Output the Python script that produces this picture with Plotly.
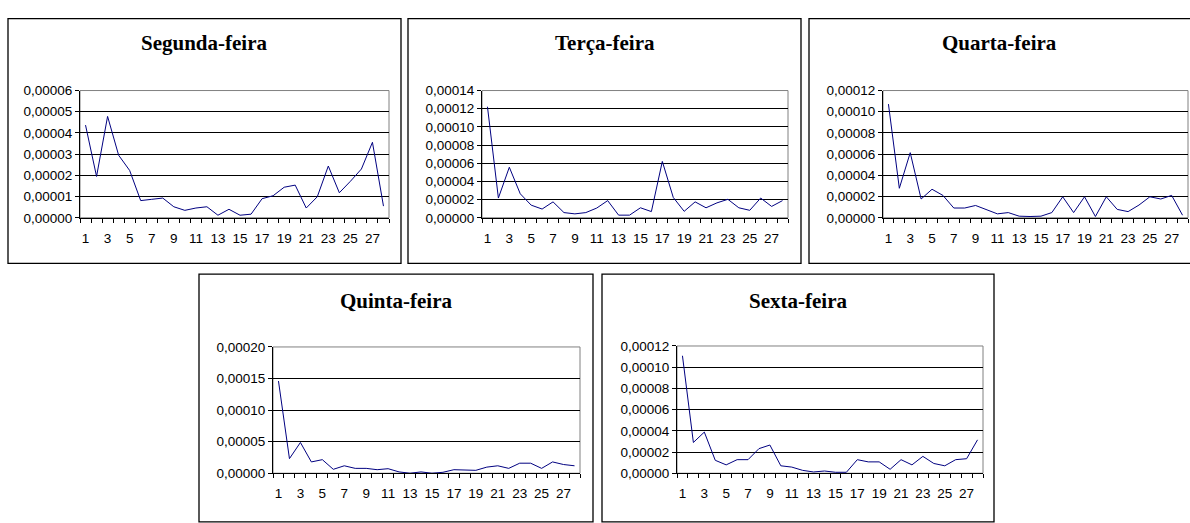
import plotly.graph_objects as go

W, H = 1190, 523

days = ["Segunda-feira", "Terça-feira", "Quarta-feira", "Quinta-feira", "Sexta-feira"]
categories = list(range(1, 29))
x_labels = [str(c) for c in categories if c % 2 == 1]

segunda = [4.37e-5, 1.95e-5, 4.78e-5, 2.95e-5, 2.23e-5, 0.81e-5, 0.87e-5, 0.93e-5, 0.52e-5, 0.35e-5,
           0.46e-5, 0.52e-5, 0.12e-5, 0.40e-5, 0.12e-5, 0.17e-5, 0.90e-5, 1.04e-5, 1.44e-5, 1.54e-5,
           0.46e-5, 0.99e-5, 2.44e-5, 1.18e-5, 1.72e-5, 2.30e-5, 3.56e-5, 0.55e-5]
terca = [12.22e-5, 2.17e-5, 5.56e-5, 2.64e-5, 1.39e-5, 0.96e-5, 1.75e-5, 0.57e-5, 0.43e-5, 0.57e-5,
         1.07e-5, 1.89e-5, 0.29e-5, 0.29e-5, 1.10e-5, 0.68e-5, 6.20e-5, 2.24e-5, 0.71e-5, 1.75e-5,
         1.10e-5, 1.64e-5, 2.03e-5, 1.10e-5, 0.82e-5, 2.17e-5, 1.25e-5, 1.89e-5]
quarta = [10.72e-5, 2.78e-5, 6.14e-5, 1.77e-5, 2.69e-5, 2.11e-5, 0.92e-5, 0.92e-5, 1.16e-5, 0.80e-5,
          0.37e-5, 0.49e-5, 0.15e-5, 0.12e-5, 0.15e-5, 0.49e-5, 1.98e-5, 0.49e-5, 1.98e-5, 0.12e-5,
          1.98e-5, 0.79e-5, 0.58e-5, 1.20e-5, 1.98e-5, 1.77e-5, 2.11e-5, 0.24e-5]
quinta = [14.6e-5, 2.31e-5, 4.87e-5, 1.79e-5, 2.15e-5, 0.62e-5, 1.18e-5, 0.77e-5, 0.77e-5, 0.56e-5,
          0.72e-5, 0.21e-5, 0.0, 0.21e-5, 0.0, 0.15e-5, 0.56e-5, 0.46e-5, 0.46e-5, 0.97e-5,
          1.18e-5, 0.77e-5, 1.59e-5, 1.59e-5, 0.77e-5, 1.79e-5, 1.38e-5, 1.18e-5]
sexta = [11.08e-5, 2.90e-5, 3.88e-5, 1.22e-5, 0.79e-5, 1.28e-5, 1.28e-5, 2.32e-5, 2.66e-5, 0.70e-5,
         0.58e-5, 0.27e-5, 0.12e-5, 0.21e-5, 0.09e-5, 0.09e-5, 1.28e-5, 1.07e-5, 1.07e-5, 0.37e-5,
         1.28e-5, 0.79e-5, 1.59e-5, 0.92e-5, 0.70e-5, 1.28e-5, 1.37e-5, 3.15e-5]

series = [segunda, terca, quarta, quinta, sexta]
y_max = [0.00006, 0.00014, 0.00012, 0.00020, 0.00012]
y_step = [0.00001, 0.00002, 0.00002, 0.00005, 0.00002]

# layout geometry in pixels: plot area (x0, x1, ytop, ybottom), frame (x0, x1, y0, y1), title y
plot_px = [(80, 389, 86, 217), (482, 788, 86, 217), (883, 1188, 86, 217),
           (273, 580, 350, 480), (677, 983, 349, 480)]
frame_px = [(8, 401, 12, 264), (408, 801, 12, 264), (809, 1195, 12, 264),
            (199, 593, 275, 530), (602, 994, 275, 530)]
title_y = [37, 37, 37, 303, 303]

def px(x):
    return x / W

def py(y):
    return 1 - y / H

fig = go.Figure()
layout = dict(width=W, height=H, margin=dict(l=0, r=0, t=0, b=0),
              paper_bgcolor="white", plot_bgcolor="white", showlegend=False,
              separators=",.", shapes=[], annotations=[])

label_vals = [c for c in categories if c % 2 == 1]
bounds = [c - 0.5 for c in categories] + [28.5]

for i in range(5):
    n = i + 1
    sfx = "" if n == 1 else str(n)
    x0, x1, yt, yb = plot_px[i]
    fig.add_trace(go.Scatter(x=categories, y=series[i], mode="lines",
                             line=dict(color="#000080", width=1),
                             xaxis="x" + sfx, yaxis="y" + sfx, hoverinfo="x+y"))
    layout["xaxis" + sfx] = dict(domain=[px(x0), px(x1)], anchor="y" + sfx,
                                 range=[0.5, 28.5], tickvals=label_vals, ticktext=x_labels,
                                 ticks="", showgrid=False, zeroline=False,
                                 ticklabelstandoff=8,
                                 showline=True, linecolor="black", linewidth=1,
                                 tickfont=dict(family="Liberation Sans", size=13.5, color="black"))
    layout["yaxis" + sfx] = dict(domain=[py(yb), py(yt)], anchor="x" + sfx,
                                 range=[0, y_max[i]], dtick=y_step[i], tick0=0,
                                 tickformat=".5f", ticks="outside", ticklen=4,
                                 tickcolor="black", showgrid=True, gridcolor="black",
                                 gridwidth=1, zeroline=False, showline=True,
                                 linecolor="black", linewidth=1,
                                 tickfont=dict(family="Liberation Sans", size=13.5, color="black"))
    # overlay axis for tick marks between categories
    m = 5 + n
    layout["xaxis" + str(m)] = dict(domain=[px(x0), px(x1)], anchor="y" + sfx,
                                    overlaying="x" + sfx, range=[0.5, 28.5],
                                    tickvals=bounds, showticklabels=False,
                                    ticks="outside", ticklen=4, tickcolor="black",
                                    showgrid=False, zeroline=False, showline=False)
    fig.add_trace(go.Scatter(x=[None], y=[None], xaxis="x" + str(m), yaxis="y" + sfx,
                             hoverinfo="skip"))
    # plot area border (grey)
    layout["shapes"].append(dict(type="rect", xref="paper", yref="paper",
                                 x0=px(x0), x1=px(x1), y0=py(yb), y1=py(yt),
                                 line=dict(color="#808080", width=1), layer="below"))
    # chart frame
    fx0, fx1, fy0, fy1 = frame_px[i]
    layout["shapes"].append(dict(type="rect", xref="paper", yref="paper",
                                 x0=px(fx0), x1=px(fx1), y0=py(fy1), y1=py(fy0),
                                 line=dict(color="black", width=1.3)))
    cx = (fx0 + min(fx1, W)) / 2 if i != 2 else (fx0 + 1190) / 2
    layout["annotations"].append(dict(text="<b>" + days[i] + "</b>", xref="paper", yref="paper",
                                      x=px(cx), y=py(title_y[i]),
                                      xanchor="center", yanchor="middle", showarrow=False,
                                      font=dict(family="Liberation Serif", size=21, color="black")))

fig.update_layout(**layout)
fig.write_html("out.html", config={"displayModeBar": False},
               post_script="document.body.style.margin='0';document.body.style.overflow='hidden';")
